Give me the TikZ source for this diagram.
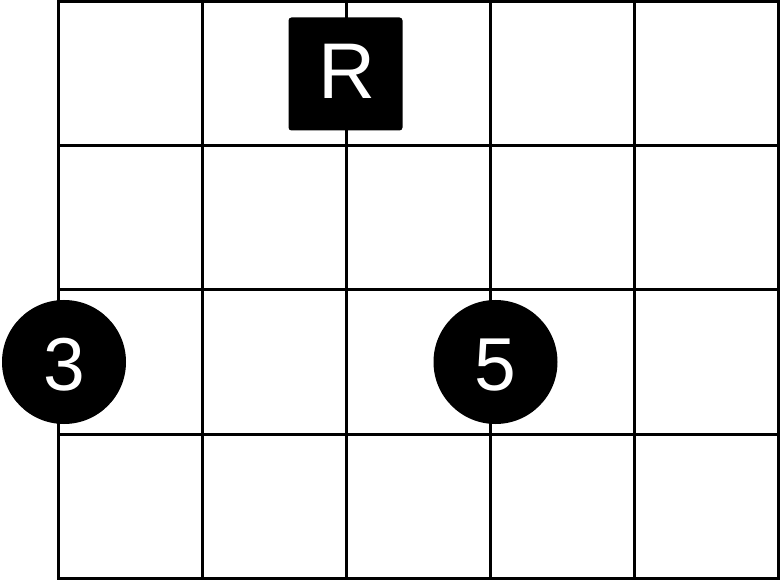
\documentclass[tikz,border=0pt]{standalone}
\usepackage{fontspec}
\setmainfont{Liberation Sans}
\begin{document}
\begin{tikzpicture}[x=1pt,y=-1pt,
  gridline/.style={line width=3pt,line cap=rect},
  dot/.style={circle,fill=black,minimum size=124pt,inner sep=0pt},
  dotlabel/.style={inner sep=0pt,text=white,font=\fontsize{75}{75}\selectfont},
  rootbox/.style={rectangle,rounded corners=3pt,fill=black,minimum width=114pt,minimum height=113pt,inner sep=0pt},
  rootlabel/.style={inner sep=0pt,text=white,font=\fontsize{79}{79}\selectfont}]
\useasboundingbox (0,0) rectangle (780,580);
\foreach \x in {58.5,202.5,346.5,490.5,634.5,778.5}
  \draw[gridline] (\x,2) -- (\x,578);
\foreach \y in {2,146,290,434,578}
  \draw[gridline] (58.5,\y) -- (778.5,\y);
\node[rootbox] (r) at (345.5,74) {};
\node[rootlabel] (rl) at (347,71) {R};
\node[dot] (n3) at (64,362) {};
\node[dotlabel] (t3) at (64,365) {3};
\node[dot] (n5) at (495.5,362) {};
\node[dotlabel] (t5) at (495.5,365) {5};
\end{tikzpicture}
\end{document}
